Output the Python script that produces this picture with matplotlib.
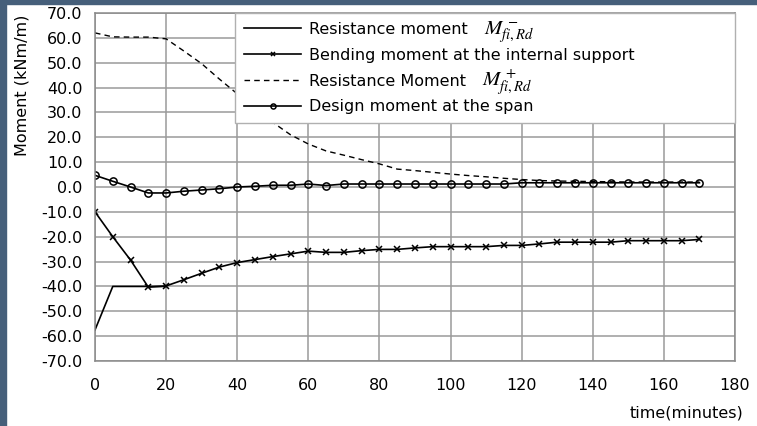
import matplotlib.pyplot as plt
import numpy as np
from matplotlib.patches import Rectangle

# time (minutes), one sample every 5 min
t = np.arange(0, 175, 5)

# resistance moment M- (only the first part is visible)
t_res_neg = [0, 5, 10, 15, 20]
res_neg = [-57.5, -40.0, -40.0, -40.0, -40.0]

# bending moment at the internal support
bend_sup = [-10.0, -20.0, -29.4, -40.3, -39.8, -37.3, -34.7, -32.2, -30.4, -29.2,
            -28.0, -26.9, -25.8, -26.3, -26.3, -25.6, -25.1, -25.1, -24.5, -24.0,
            -24.0, -24.0, -24.0, -23.5, -23.5, -22.9, -22.2, -22.2, -22.2, -22.2,
            -21.6, -21.6, -21.6, -21.6, -21.1]

# resistance moment M+
res_pos = [62.0, 60.4, 60.3, 60.3, 59.6, 54.7, 49.6, 43.4, 37.5, 31.5,
           26.0, 21.0, 17.3, 14.5, 12.8, 11.0, 9.3, 7.2, 6.6, 5.9,
           5.2, 4.6, 4.1, 3.5, 3.0, 2.6, 2.4, 2.3, 2.2, 2.1,
           2.0, 2.0, 2.0, 2.0, 2.0]

# design moment at the span
span = [4.7, 2.3, 0.0, -2.4, -2.4, -1.7, -1.2, -0.7, 0.0, 0.3,
        0.7, 0.7, 1.2, 0.6, 1.2, 1.2, 1.2, 1.2, 1.2, 1.2,
        1.2, 1.2, 1.2, 1.2, 1.7, 1.7, 1.7, 1.7, 1.7, 1.7,
        1.7, 1.7, 1.7, 1.7, 1.7]

labels = ['Resistance moment', 'Bending moment at the internal support',
          'Resistance Moment', 'Design moment at the span']
symbols = ['$M^{\\,-}_{fi,Rd}$', None, '$M^{\\,+}_{fi,Rd}$', None]

plt.rcParams['font.family'] = ['DejaVu Sans']
plt.rcParams['mathtext.fontset'] = 'stix'
plt.rcParams['font.size'] = 11.5

fig = plt.figure(figsize=(7.57, 4.26), dpi=100)
fig.patch.set_facecolor('white')

# dark frame strips round the picture
dark = '#465f7a'
fig.add_artist(Rectangle((0, 0), 6/757, 1, transform=fig.transFigure, color=dark, zorder=0))
fig.add_artist(Rectangle((0, 1-4/426), 1, 4/426, transform=fig.transFigure, color=dark, zorder=0))

ax = fig.add_axes([95/757, 1-361/426, 640/757, 348/426])

l1, = ax.plot(t_res_neg, res_neg, color='black', lw=1.2, label=labels[0])
l2, = ax.plot(t, bend_sup, color='black', lw=1.2, marker='x', ms=5, mew=1.1,
              label=labels[1])
l3, = ax.plot(t, res_pos, color='black', lw=1.0, ls=(0, (4, 3)), label=labels[2])
l4, = ax.plot(t, span, color='black', lw=1.2, marker='o', ms=5.2, mfc='none', mew=1.1,
              label=labels[3])

ax.set_xlim(0, 180)
ax.set_ylim(-70, 70)
ax.set_xticks(np.arange(0, 181, 20))
ax.set_yticks(np.arange(-70, 71, 10))
ax.set_yticklabels(['%.1f' % v for v in np.arange(-70, 71, 10)])
ax.tick_params(length=0)
ax.tick_params(axis='x', pad=12)
ax.tick_params(axis='y', pad=9)
ax.grid(True, color='#9a9a9a', lw=1.1)
ax.set_axisbelow(True)
for s in ax.spines.values():
    s.set_color('#8a8a8a')
    s.set_linewidth(1.1)

leg = ax.legend(handles=[l1, l2, l3, l4], loc='upper left',
                bbox_to_anchor=(0.219, 0.684, 0.781, 0.316), mode='expand',
                borderaxespad=0, fancybox=False, framealpha=1, edgecolor='#b0b0b0',
                handlelength=3.6, handletextpad=0.5, labelspacing=0.68,
                borderpad=0.55, markerscale=0.7)
leg.get_frame().set_linewidth(1.0)

# larger M symbols next to the legend labels, on the label baseline
fig.canvas.draw()
r = fig.canvas.get_renderer()
for txt, sym in zip(leg.get_texts(), symbols):
    if sym is None:
        continue
    bb = txt.get_window_extent(r)
    fig.text((bb.x1 + 16) / 757, (bb.y0 + 2) / 426, sym,
             fontsize=15, ha='left', va='baseline', zorder=10)

fig.text(22/757, 1-85/426, 'Moment (kNm/m)', rotation=90, ha='center', va='center')
fig.text(743/757, 1-413/426, 'time(minutes)', ha='right', va='center')

fig.savefig('out.png', dpi=100)
